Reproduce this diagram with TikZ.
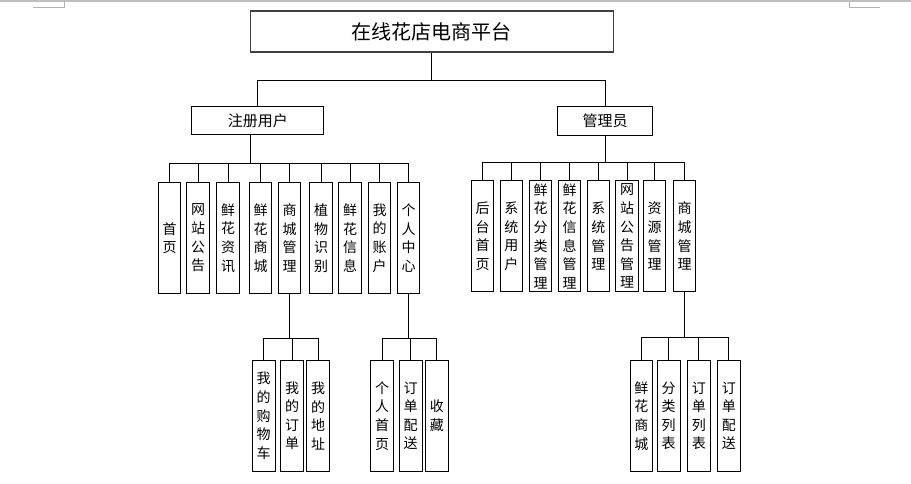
\documentclass[tikz,border=0pt]{standalone}
\usepackage{fontspec}
\newfontfamily\cjk{Noto Sans CJK SC}

\begin{document}
\begin{tikzpicture}[x = 1pt, y = -1pt, line width = 0.9pt,
    hbox/.style = {draw, rectangle, inner sep = 1pt},
    vbox/.style = {draw, rectangle, inner sep = 1pt, align = center,
                   minimum width = 22.5pt, minimum height = 111pt,
                   font = \cjk\fontsize{14}{18.6}\selectfont}]
          \useasboundingbox (0,0) rectangle (911,484);
          \fill[black!25] (0,0) rectangle (911,2);
          \draw[black!30, line width = 0.8pt] (33,7) -- (64,7) -- (64,2);
          \draw[black!30, line width = 0.8pt] (880,7) -- (849,7) -- (849,2);

          \node[hbox, line width = 1.4pt, draw = black!75, minimum width = 363pt, minimum height = 41pt,
                font = \cjk\fontsize{20}{24}\selectfont] at (431.7, 31.7) (platform) {在线花店电商平台};
          \node[hbox, minimum width = 132pt, minimum height = 28pt,
                font = \cjk\fontsize{15}{18}\selectfont] at (257.8, 120.8) (user)  {注册用户};
          \node[hbox, minimum width = 95pt, minimum height = 29pt,
                font = \cjk\fontsize{15}{18}\selectfont] at (605.2, 120.5) (admin) {管理员};

          % registered user
          \node[vbox] at (169.5, 238) (u1) {首\\页};
          \node[vbox] at (198.0, 238) (u2) {网\\站\\公\\告};
          \node[vbox] at (228.0, 238) (u3) {鲜\\花\\资\\讯};
          \node[vbox] at (260.5, 238) (u4) {鲜\\花\\商\\城};
          \node[vbox] at (289.5, 238) (u5) {商\\城\\管\\理};
          \node[vbox] at (321.0, 238) (u6) {植\\物\\识\\别};
          \node[vbox] at (350.0, 238) (u7) {鲜\\花\\信\\息};
          \node[vbox] at (379.5, 238) (u8) {我\\的\\账\\户};
          \node[vbox] at (408.5, 238) (u9) {个\\人\\中\\心};

          \node[vbox] at (263.7, 415.8) (s1) {我\\的\\购\\物\\车};
          \node[vbox] at (292.0, 415.8) (s2) {我\\的\\订\\单};
          \node[vbox] at (318.0, 415.8) (s3) {我\\的\\地\\址};

          \node[vbox] at (382.0, 415.8) (p1) {个\\人\\首\\页};
          \node[vbox] at (410.7, 415.8) (p2) {订\\单\\配\\送};
          \node[vbox] at (436.8, 415.8) (p3) {收\\藏};

          % administrator
          \node[vbox] at (482.5, 236.2) (a1) {后\\台\\首\\页};
          \node[vbox] at (511.3, 236.2) (a2) {系\\统\\用\\户};
          \node[vbox] at (540.5, 236.2) (a3) {鲜\\花\\分\\类\\管\\理};
          \node[vbox] at (569.5, 236.2) (a4) {鲜\\花\\信\\息\\管\\理};
          \node[vbox] at (598.3, 236.2) (a5) {系\\统\\管\\理};
          \node[vbox] at (627.0, 236.2) (a6) {网\\站\\公\\告\\管\\理};
          \node[vbox] at (654.5, 236.2) (a7) {资\\源\\管\\理};
          \node[vbox] at (684.5, 236.2) (a8) {商\\城\\管\\理};

          \node[vbox] at (641.3, 415.8) (m1) {鲜\\花\\商\\城};
          \node[vbox] at (668.7, 415.8) (m2) {分\\类\\列\\表};
          \node[vbox] at (698.8, 415.8) (m3) {订\\单\\列\\表};
          \node[vbox] at (728.8, 415.8) (m4) {订\\单\\配\\送};

          \draw (platform.south) -- ++(0,27.7) -| (user.north);
          \draw (platform.south) -- ++(0,27.7) -| (admin.north);

          \foreach \i in {1,...,9}
            \draw ([xshift = -7.8pt]user.south) -- ++(0,28.3) -| (u\i.north);
          \foreach \i in {1,...,8}
            \draw (admin.south) -- ++(0,26.7) -| (a\i.north);

          \foreach \i in {1,2,3}
            \draw (u5.south) -- ++(0,44.4) -| (s\i.north);
          \foreach \i in {1,2,3}
            \draw (u9.south) -- ++(0,44.4) -| (p\i.north);
          \foreach \i in {1,...,4}
            \draw (a8.south) -- ++(0,45.4) -| (m\i.north);
        \end{tikzpicture}
\end{document}
